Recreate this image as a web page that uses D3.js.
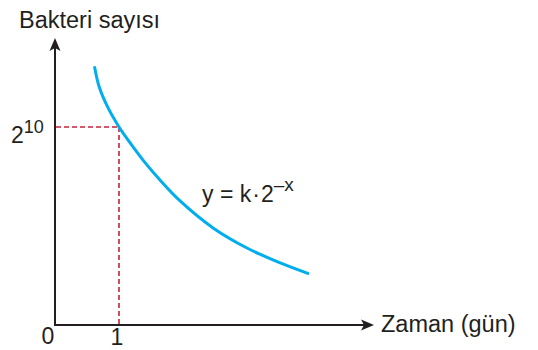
<!DOCTYPE html>
<html>
<head>
    <meta charset="utf-8">
    <script src="https://d3js.org/d3.v7.min.js"></script>
    <style>
        body { margin: 0; background: #fff; }
        text { font-family: "Liberation Sans", Arial, sans-serif; fill: #231f20; }
    </style>
</head>
<body>
    <div id="chart"></div>
    <script>
        // curve: x in days, y in bacteria count
        const curveX = [0.62, 0.69, 0.82, 1.0, 1.14, 1.375, 1.64, 1.95, 2.47, 3.0, 3.52, 3.95];
        const curveY = [1332, 1232, 1129, 1024, 957, 853, 750, 643, 502, 398, 321, 267];
        const markX = 1;       // dashed guide point
        const markY = 1024;    // 2^10
        const xTickValues = [0, 1];
        const xTickLabels = ["0", "1"];

        const width = 538, height = 350;
        const svg = d3.select("#chart").append("svg")
            .attr("width", width)
            .attr("height", height);

        const x = d3.scaleLinear().domain([0, 1]).range([55, 119]);
        const y = d3.scaleLinear().domain([0, 1024]).range([325, 127]);

        const ink = "#231f20";

        // axes with arrow heads
        const xEnd = 374, yEnd = 38;
        svg.append("line")
            .attr("x1", x(0)).attr("y1", y(0))
            .attr("x2", xEnd - 8).attr("y2", y(0))
            .attr("stroke", ink).attr("stroke-width", 2);
        svg.append("line")
            .attr("x1", x(0)).attr("y1", y(0) + 1)
            .attr("x2", x(0)).attr("y2", yEnd + 8)
            .attr("stroke", ink).attr("stroke-width", 2);
        svg.append("path")
            .attr("d", `M${xEnd},${y(0)} L${xEnd - 13},${y(0) - 5.5} L${xEnd - 10},${y(0)} L${xEnd - 13},${y(0) + 5.5} Z`)
            .attr("fill", ink);
        svg.append("path")
            .attr("d", `M${x(0)},${yEnd} L${x(0) - 5.5},${yEnd + 13} L${x(0)},${yEnd + 10} L${x(0) + 5.5},${yEnd + 13} Z`)
            .attr("fill", ink);

        // dashed guides
        const red = "#c8213a";
        svg.append("line")
            .attr("x1", x(0) + 1).attr("y1", y(markY))
            .attr("x2", x(markX)).attr("y2", y(markY))
            .attr("stroke", red).attr("stroke-width", 1.6)
            .attr("stroke-dasharray", "5,3");
        svg.append("line")
            .attr("x1", x(markX)).attr("y1", y(markY))
            .attr("x2", x(markX)).attr("y2", y(0) - 1)
            .attr("stroke", red).attr("stroke-width", 1.6)
            .attr("stroke-dasharray", "5,3");

        // curve
        const line = d3.line()
            .x((d, i) => x(curveX[i]))
            .y(d => y(d))
            .curve(d3.curveCatmullRom.alpha(0.5));
        svg.append("path")
            .attr("d", line(curveY))
            .attr("fill", "none")
            .attr("stroke", "#00aeef")
            .attr("stroke-width", 3)
            .attr("stroke-linecap", "round");

        // tick labels
        svg.selectAll(".xtick")
            .data(xTickValues)
            .join("text")
            .attr("class", "xtick")
            .attr("x", (d, i) => i === 0 ? x(d) - 7 : x(d) - 2)
            .attr("y", (d, i) => i === 0 ? 344 : 345)
            .attr("text-anchor", "middle")
            .attr("font-size", 23)
            .text((d, i) => xTickLabels[i]);

        const yLab = svg.append("text")
            .attr("x", 11).attr("y", y(markY) + 16)
            .attr("font-size", 23);
        yLab.append("tspan").text("2");
        yLab.append("tspan").attr("dy", -10).attr("font-size", 18).text("10");

        // axis titles
        svg.append("text")
            .attr("x", 19).attr("y", 28)
            .attr("font-size", 23.5)
            .text("Bakteri sayısı");
        svg.append("text")
            .attr("x", 381).attr("y", 332)
            .attr("font-size", 23.5)
            .text("Zaman (gün)");

        // equation
        const eq = svg.append("text")
            .attr("x", 202).attr("y", 202)
            .attr("font-size", 23);
        eq.append("tspan").text("y = k");
        eq.append("tspan").attr("dx", 1).text("·");
        eq.append("tspan").attr("dx", 1).text("2");
        eq.append("tspan").attr("dy", -11).attr("font-size", 19).text("–x");
    </script>
</body>
</html>
